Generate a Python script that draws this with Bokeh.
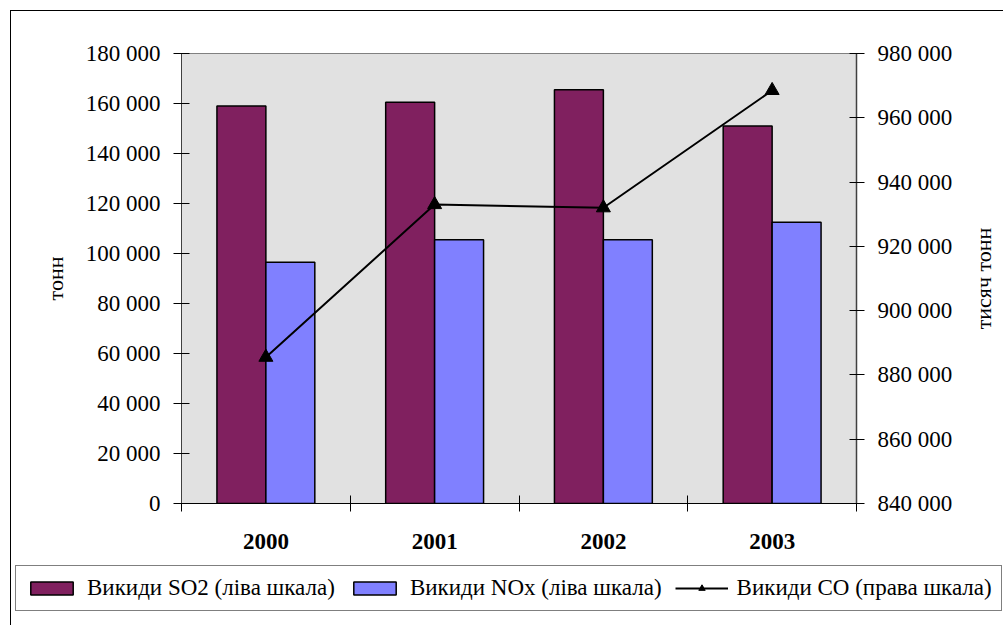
import math

from bokeh.plotting import figure
from bokeh.layouts import column, row
from bokeh.models import (Range1d, LinearAxis, FixedTicker, ColumnDataSource,
                          Legend, LegendItem, Label, InlineStyleSheet)
from bokeh.transform import dodge
from bokeh.embed import file_html
from bokeh.resources import INLINE

# Emissions by year
years = ["2000", "2001", "2002", "2003"]
so2 = [159000, 160500, 165500, 151000]      # тонн, left scale
nox = [96500, 105500, 105500, 112500]       # тонн, left scale
co = [885500, 933000, 932000, 968500]       # тисяч тонн, right scale

left_ticks = [0, 20000, 40000, 60000, 80000, 100000, 120000, 140000, 160000, 180000]
left_tick_labels = ["0", "20 000", "40 000", "60 000", "80 000", "100 000",
                    "120 000", "140 000", "160 000", "180 000"]
right_ticks = [840000, 860000, 880000, 900000, 920000, 940000, 960000, 980000]
right_tick_labels = ["840 000", "860 000", "880 000", "900 000", "920 000",
                     "940 000", "960 000", "980 000"]

left_title = "тонн"
right_title = "тисяч тонн"
legend_labels = ["Викиди SO2 (ліва шкала)", "Викиди NOx (ліва шкала)",
                 "Викиди CO (права шкала)"]

FONT = "Liberation Serif"
SO2_COLOR = "#80205f"
NOX_COLOR = "#8080ff"
W = 1003          # whole chart width
H_MAIN = 560      # plot part height
W_TITLE = 40      # strip holding the right-hand axis title
H_LEGEND = 65     # legend strip height

xpos = list(range(len(years)))
src = ColumnDataSource(dict(x=xpos, so2=so2, nox=nox, co=co))


def edge_css(left, top, width, height, sides):
    rules = "".join(f"border-{s}: 1.5px solid black; " for s in sides)
    return InlineStyleSheet(css=f"""
:host {{ position: relative; }}
:host::after {{
  content: ""; position: absolute; left: {left}px; top: {top}px;
  width: {width}px; height: {height}px; box-sizing: border-box;
  {rules} pointer-events: none;
}}
""")


W_MAIN = W - W_TITLE
p = figure(width=W_MAIN, height=H_MAIN, output_backend="svg", toolbar_location=None,
           x_range=Range1d(-0.5, len(years) - 0.5),
           y_range=Range1d(left_ticks[0], left_ticks[-1]),
           min_border_left=181, min_border_right=W_MAIN - 856,
           min_border_top=53, min_border_bottom=H_MAIN - 503,
           stylesheets=[edge_css(10, 10, W_MAIN - 10, H_MAIN - 10, ["left", "top"])])
p.frame_align = False
p.extra_y_ranges = {"co": Range1d(right_ticks[0], right_ticks[-1])}

p.background_fill_color = "#e1e1e1"
p.border_fill_color = "white"
p.outline_line_color = "#808080"
p.outline_line_width = 1
p.xgrid.visible = False
p.ygrid.visible = False

bar_w = 0.29
bar_style = dict(line_color="black", line_width=1.5)
p.vbar(x=dodge("x", -bar_w / 2, range=p.x_range), top="so2", bottom=0,
       width=bar_w, source=src, fill_color=SO2_COLOR, **bar_style)
p.vbar(x=dodge("x", bar_w / 2, range=p.x_range), top="nox", bottom=0,
       width=bar_w, source=src, fill_color=NOX_COLOR, **bar_style)
line_style = dict(line_color="black", line_width=2)
mark_style = dict(marker="triangle", size=14, fill_color="black", line_color="black")
p.line(x="x", y="co", source=src, y_range_name="co", **line_style)
p.scatter(x="x", y="co", source=src, y_range_name="co", **mark_style)

# x axis: ticks between the years, year labels centred under each group
xax = p.xaxis[0]
xax.ticker = FixedTicker(ticks=xpos, minor_ticks=[i - 0.5 for i in range(len(years) + 1)])
xax.major_label_overrides = {i: y for i, y in zip(xpos, years)}
xax.major_tick_line_color = None
xax.major_tick_in = 0
xax.major_tick_out = 0
xax.minor_tick_in = 8
xax.minor_tick_out = 8
xax.minor_tick_line_color = "black"
xax.axis_line_color = "black"
xax.major_label_text_font = FONT
xax.major_label_text_font_size = "23px"
xax.major_label_text_font_style = "bold"
xax.major_label_text_color = "black"
xax.major_label_standoff = 22

# left axis
yax = p.yaxis[0]
yax.ticker = FixedTicker(ticks=left_ticks)
yax.major_label_overrides = {t: s for t, s in zip(left_ticks, left_tick_labels)}
yax.minor_tick_line_color = None
yax.major_tick_in = 8
yax.major_tick_out = 8
yax.major_tick_line_color = "black"
yax.axis_line_color = "#404040"
yax.major_label_text_font = FONT
yax.major_label_text_font_size = "23px"
yax.major_label_text_color = "black"
yax.major_label_standoff = 13
yax.axis_label = left_title
yax.axis_label_text_font = FONT
yax.axis_label_text_font_size = "22px"
yax.axis_label_text_font_style = "normal"
yax.axis_label_text_color = "black"
yax.axis_label_standoff = 15

# right axis for CO
rax = LinearAxis(y_range_name="co", ticker=FixedTicker(ticks=right_ticks))
rax.major_label_overrides = {t: s for t, s in zip(right_ticks, right_tick_labels)}
rax.minor_tick_line_color = None
rax.major_tick_in = 7
rax.major_tick_out = 8
rax.major_tick_line_color = "black"
rax.axis_line_color = "#404040"
rax.axis_line_width = 1.5
rax.major_label_text_font = FONT
rax.major_label_text_font_size = "23px"
rax.major_label_text_color = "black"
rax.major_label_standoff = 13
p.add_layout(rax, "right")

# narrow strip with the right-hand title, reading bottom-to-top
rt = figure(width=W_TITLE, height=H_MAIN, output_backend="svg", toolbar_location=None,
            x_range=Range1d(0, 1), y_range=Range1d(0, 1),
            x_axis_location=None, y_axis_location=None,
            min_border_left=0, min_border_right=0,
            min_border_top=53, min_border_bottom=H_MAIN - 503,
            stylesheets=[edge_css(0, 10, W_TITLE, H_MAIN - 10, ["top"])])
rt.frame_align = False
rt.grid.visible = False
rt.outline_line_color = None
rt.background_fill_color = "white"
rt.border_fill_color = "white"
rt.add_layout(Label(x=0.5, y=0.5, text=right_title, angle=math.pi / 2,
                    text_align="center", text_baseline="middle",
                    text_font=FONT, text_font_size="22px", text_color="black"))

# legend strip under the chart; its renderers are hidden and only lend
# their styles to the legend entries
lf = figure(width=W, height=H_LEGEND, output_backend="svg", toolbar_location=None,
            x_range=Range1d(-0.5, len(years) - 0.5), y_range=Range1d(0, 1),
            x_axis_location=None, y_axis_location=None,
            min_border=0, stylesheets=[edge_css(10, 0, W - 10, H_LEGEND, ["left"])])
lf.frame_align = False
lf.grid.visible = False
lf.outline_line_color = None
lf.background_fill_color = "white"
lf.border_fill_color = "white"

l_so2 = lf.vbar(x="x", top="so2", width=bar_w, source=src,
                fill_color=SO2_COLOR, visible=False, **bar_style)
l_nox = lf.vbar(x="x", top="nox", width=bar_w, source=src,
                fill_color=NOX_COLOR, visible=False, **bar_style)
l_line = lf.line(x="x", y="co", source=src, visible=False, **line_style)
l_mark = lf.scatter(x="x", y="co", source=src, visible=False, **mark_style)

legend = Legend(items=[
    LegendItem(label=legend_labels[0], renderers=[l_so2]),
    LegendItem(label=legend_labels[1], renderers=[l_nox]),
    LegendItem(label=legend_labels[2], renderers=[l_line, l_mark]),
], orientation="horizontal", location=(15, 14))
legend.label_text_font = FONT
legend.label_text_font_size = "23px"
legend.label_text_color = "black"
legend.glyph_width = 53
legend.glyph_height = 16
legend.label_standoff = 9
legend.spacing = 13
legend.padding = 9
legend.margin = 0
legend.border_line_color = "black"
legend.border_line_width = 1
legend.background_fill_color = "white"
legend.background_fill_alpha = 1
lf.add_layout(legend, "center")

layout = column(row(p, rt, spacing=0), lf, spacing=0)
open("out.html", "w").write(file_html(layout, INLINE))
